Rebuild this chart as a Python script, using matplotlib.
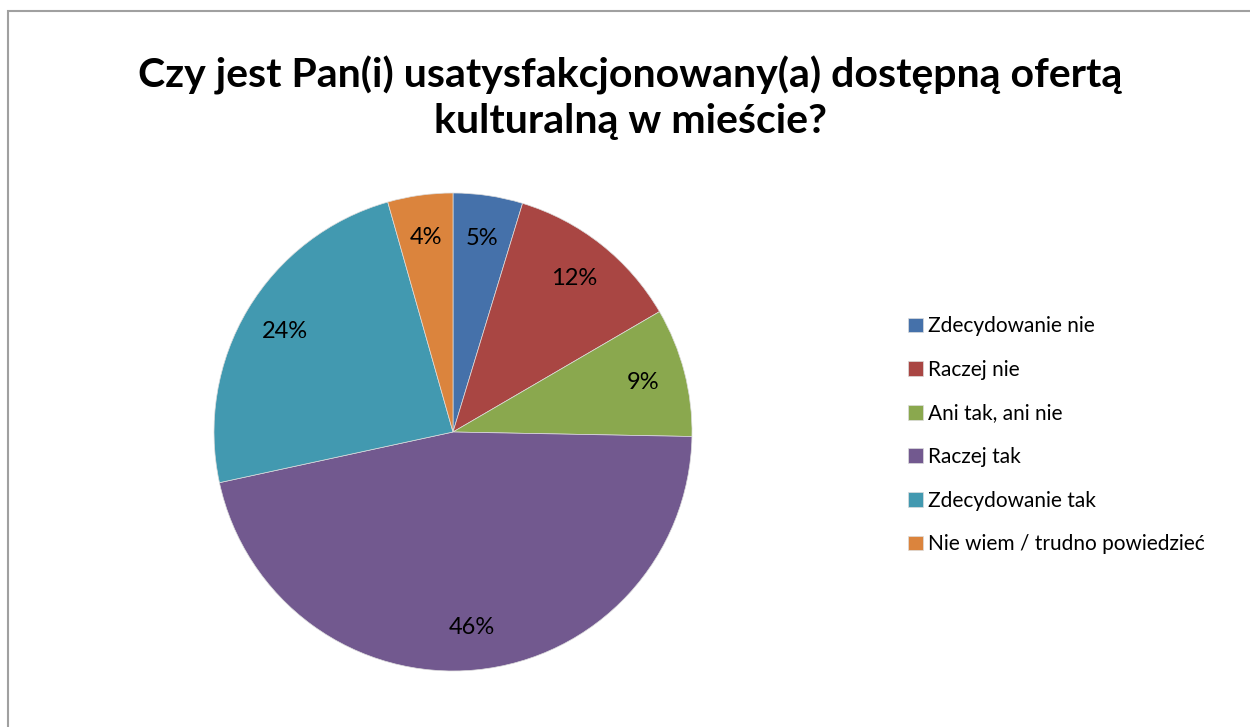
import matplotlib.pyplot as plt
from matplotlib.patches import Rectangle

plt.rcParams['font.family'] = ['Lato', 'DejaVu Sans']

categories = ["Zdecydowanie nie", "Raczej nie", "Ani tak, ani nie",
              "Raczej tak", "Zdecydowanie tak", "Nie wiem / trudno powiedzieć"]
values = [4.7, 11.9, 8.7, 46.3, 24.0, 4.4]
colors = ["#4571AA", "#A94643", "#8AA84E", "#72598F", "#4299B0", "#DB843D"]

W, H = 1250, 727
fig = plt.figure(figsize=(W / 100, H / 100), dpi=100)

# outer chart frame (cut off at right and bottom like the reference)
fig.patches.append(Rectangle((8 / W, -0.1), 1.2, 1 - 11 / H + 0.1,
                             transform=fig.transFigure, fill=False,
                             edgecolor="#A0A0A0", linewidth=1.5))

fig.text(630 / W, 1 - 98 / H,
         "Czy jest Pan(i) usatysfakcjonowany(a) dostępną ofertą\nkulturalną w mieście?",
         ha="center", va="center", fontsize=29.5, fontweight="bold",
         linespacing=1.25)

cx, cy, r = 453, 432, 239
ax = fig.add_axes([(cx - r) / W, (H - cy - r) / H, 2 * r / W, 2 * r / H])
wedges, texts, autotexts = ax.pie(values, colors=colors, startangle=90,
                                  counterclock=False, autopct="%.0f%%",
                                  pctdistance=0.82,
                                  wedgeprops=dict(linewidth=0.5, edgecolor="#dddddd"),
                                  textprops=dict(fontsize=17, color="black"))
ax.set_xlim(-1, 1)
ax.set_ylim(-1, 1)
ax.set_aspect("equal")

fig.legend(wedges, categories, loc="upper left",
           bbox_to_anchor=(898 / W, 1 - 306 / H), frameon=False,
           fontsize=15, handlelength=0.7, handleheight=0.7,
           handletextpad=0.25, labelspacing=1.13, borderpad=0)

fig.savefig("out.png", dpi=100)
